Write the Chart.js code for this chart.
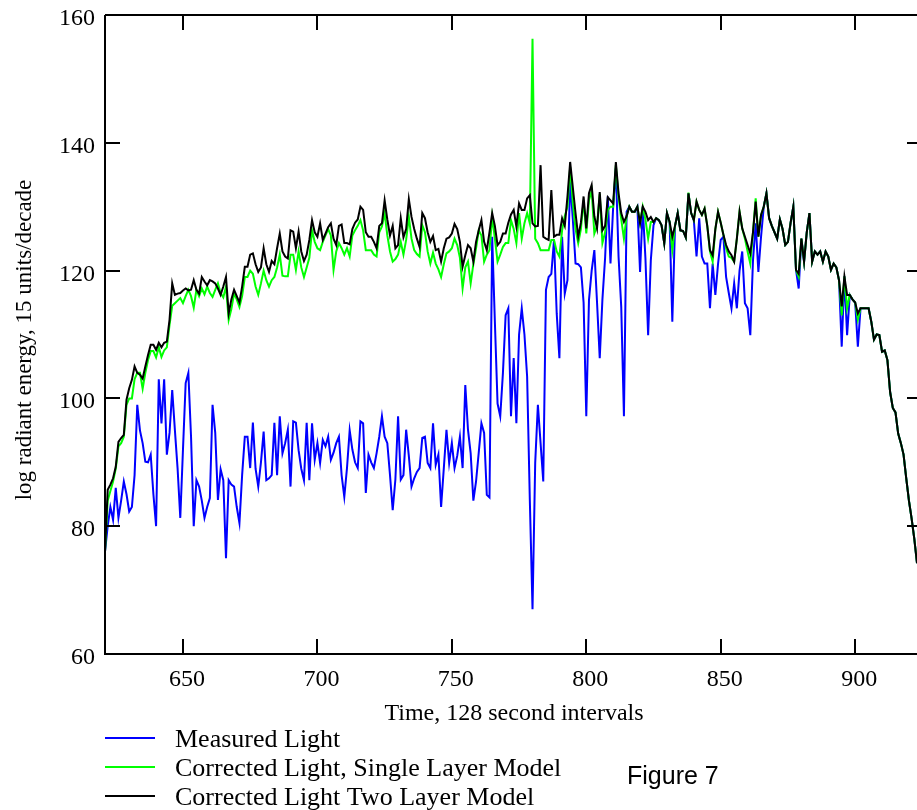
<!DOCTYPE html>
<html>
<head>
<meta charset="utf-8">
<script src="https://cdn.jsdelivr.net/npm/chart.js@4.4.1/dist/chart.umd.min.js"></script>
<style>
html,body{margin:0;padding:0;background:#fff;}
#c{display:block;}
</style>
</head>
<body>
<canvas id="c" width="917" height="810"></canvas>
<script>
// Time axis (128 second intervals)
const timeSteps = [
621,622,623,624,625,626,627,628,629,630,
631,632,633,634,635,636,637,638,639,640,
641,642,643,644,645,646,647,648,649,650,
651,652,653,654,655,656,657,658,659,660,
661,662,663,664,665,666,667,668,669,670,
671,672,673,674,675,676,677,678,679,680,
681,682,683,684,685,686,687,688,689,690,
691,692,693,694,695,696,697,698,699,700,
701,702,703,704,705,706,707,708,709,710,
711,712,713,714,715,716,717,718,719,720,
721,722,723,724,725,726,727,728,729,730,
731,732,733,734,735,736,737,738,739,740,
741,742,743,744,745,746,747,748,749,750,
751,752,753,754,755,756,757,758,759,760,
761,762,763,764,765,766,767,768,769,770,
771,772,773,774,775,776,777,778,779,780,
781,782,783,784,785,786,787,788,789,790,
791,792,793,794,795,796,797,798,799,800,
801,802,803,804,805,806,807,808,809,810,
811,812,813,814,815,816,817,818,819,820,
821,822,823,824,825,826,827,828,829,830,
831,832,833,834,835,836,837,838,839,840,
841,842,843,844,845,846,847,848,849,850,
851,852,853,854,855,856,857,858,859,860,
861,862,863,864,865,866,867,868,869,870,
871,872,873,874,875,876,877,878,879,880,
881,882,883,884,885,886,887,888,889,890,
891,892,893,894,895,896,897,898,899,900,
901,902,903,904,905,906,907,908,909,910,
911,912,913,914,915,916,917,918,919,920,
921,922,923];

const measuredLight = [
76,80,83,81,86,81.3,84,87,85,82.3,
83,88,99,95,93,90.1,90,91.2,85,80,
103,96.1,103,91.2,94.6,101.3,95,89,81.3,92,
102.4,104,94,80,87.2,86.2,84,81.3,83,84.4,
99,94.6,84.1,88.9,87.2,75,87.2,86.5,86.2,83,
80.5,88,94,94,89.1,96.2,89,86.2,90,94.8,
87.2,87.5,88,96.2,88,97.2,91.4,93,95.1,86.2,
96.4,96.2,91.9,89,87.2,96.2,87.2,96.1,90.4,93,
89.9,93.5,92.5,94,90.4,91.5,93,94,88,84.6,
89.1,95,92,90,89.1,96.4,96.1,85.2,91.2,90,
89.1,91.4,94,97.2,94,93,88,82.5,87.3,97.2,
87.3,88,95.1,91,86.2,87.5,88.5,89.1,93.8,94,
89.9,89.1,96.1,89.6,91.2,83,89,95.1,89.9,93,
89.1,91,94,89.1,102.1,95.1,91.4,84,87,91.5,
96.1,94.6,84.9,84.5,125.3,112,99.2,97.2,104,113,
114.1,97.2,106.3,96.1,110,114.1,110,103.4,84.1,67,
89.9,99,93,87,117,119,119.5,124.8,113.3,106.3,
125.3,116.4,118.5,134,128,121.1,121,120.5,115,97.2,
115.4,120,123.2,115,106.3,115.5,122,131.6,121.1,130,
136,122.2,114.3,97.2,129.2,130,129.2,129.2,130,119.8,
130,121.9,109.9,121.6,127.1,128.2,127.9,127.1,124.3,129,
127.6,112,127,129,126.3,126.2,125.2,132.1,129,127.9,
122.2,128.2,122.2,121.1,121.1,114.1,121.1,116.2,121,124.8,
125.3,119,116.5,114.1,118,114.1,120,123,114.9,114.1,
109.9,121.6,127.4,119.8,125.3,130,132.1,128.2,127,126,
125,128,126.5,124,124.5,127.5,130,120.1,117.2,125,
121.4,126,129,121.4,123,122.5,123,121.4,123,122.2,
120.1,121.1,120.5,118.5,108.1,119.1,109.9,116.2,115.5,115,
108.1,114.1,114.1,114.1,114.1,112,109.2,110,109.9,107.3,
107.5,106,101,98.5,97.8,94.5,93,91.2,87.5,84,
81.2,78,74.2];

const singleLayerModel = [
76,84,85.5,87,89,92.5,93,94,99,100,
100,103,104,104,101.5,104,106,107.4,107.4,106.4,
108,106.5,107.5,108,111.5,114.5,114.9,115.3,115.7,114.9,
116,117,116,114.2,117,116,117.2,116.3,117.5,116.5,
115.9,117,118,116.5,115.8,117.5,112.3,114,116.4,115.5,
114.3,116,119,119,120,119.5,117.5,116.2,118,120,
118.5,117.5,118.5,119,120.5,122.5,119.2,119.1,119.1,122.5,
122.5,120.1,123,120.5,119,120.5,122,126.3,124.5,123.5,
123.2,124.5,125.5,126.5,125.5,120.1,123,124.3,123.5,122.5,
123.5,122.2,125.5,126.3,127,127.9,126.3,123.2,123.2,123.2,
122.5,122.2,126,126.9,129,125.5,123,121.4,121.8,122.5,
124.5,122.5,124.8,128.4,125,123.2,122.6,122.2,127.1,126,
123,121.1,122.8,121.1,120.2,119,121,122.7,123,123.5,
125,124,122,117.2,120.5,121.4,118,121,123.5,126.3,
125.5,121.4,122.5,123.2,128.4,125,121.4,122.5,123.7,124.3,
124.3,127.9,126.5,124.3,129,125,127.4,129,127.4,156.3,
125,124.3,123.2,123.2,123.2,123.2,124.8,124.8,123,122.2,
126.3,128.5,130,136.2,130.5,126.5,124.3,126.5,131,125.8,
131,132.5,125.8,127,132,124.3,126,129.5,130,130,
136.5,131.5,128,125,128.5,130,129.2,129.2,130,127.4,
130,128,125,127.6,127.6,128.2,127.9,127.1,124.3,129,
127.6,123.2,127,129,126.3,126.2,125.2,132.2,129,127.9,
130.8,129.5,128.7,129.7,127,123,121.4,126.5,129.2,127.5,
125.6,123.5,122.2,122,121.4,125,129.2,126.6,125,123,
121.1,126,131.3,125.3,128.7,130,132.1,128.2,127,126,
125,128,126.5,124,124.5,127.5,130,120.1,119,125,
121.4,126,129,121.4,123,122.5,123,121.4,123,122.2,
120.1,121.1,120.5,118.5,113,119.1,114.1,116.2,115.5,115,
112.3,114.1,114.1,114.1,114.1,112,109.2,110,109.9,107.3,
107.5,106,101,98.5,97.8,94.5,93,91.2,87.5,84,
81.2,78,74.2];

const twoLayerModel = [
76,85.7,86.5,87.5,89.3,93.2,93.8,94.3,99.8,101.6,
102.9,105,104,103.7,103.1,105,106.8,108.4,108.4,107.6,
108.7,108,108.7,108.9,112.3,118,116.2,116.4,116.5,116.9,
117.2,116.9,117,118.5,117,116.4,119,118.3,117.7,118.5,
118.3,118,117.2,116.2,117.5,119,113.3,115.5,117,116,
115,117.5,120.6,120.6,122.5,122.7,121,119.8,120.5,123.5,
121,119.8,121.5,121,123.5,125.8,123,122.2,121.9,126.3,
126.1,123.5,126.1,123,121.5,122.5,124.8,127.9,126,125.3,
127.4,124.8,125.8,126.8,127.4,125,124,127,127.2,124.3,
124.3,124.1,126.5,127.5,128,130,129.5,126,125.3,125.3,
124.5,123.5,127,127.4,131,128,125.5,127,123.5,124,
128.2,125.2,126.5,131.2,128.4,126.5,125,123.7,129,128.2,
126,124.5,125.4,123.2,123.4,121.4,123.5,125,125.2,125.8,
127.3,126.5,124.5,120.6,122.4,124,123.5,121.4,124.5,126.3,
127.9,124.5,123.2,126,129,127,124,124.5,125.8,125.8,
127.5,128.8,129.5,126.9,130.5,129.5,129.5,131.3,131.8,127.4,
126.9,127,136.5,125.3,125,124.8,132.6,125.3,125.6,125.6,
128.2,127,131.6,137,133,129,125.3,127.5,131.6,126.6,
132.1,133.4,128.5,126.6,132.3,126.3,127,131.5,131,130.5,
137,132.1,129,127.6,128.5,130,129.2,129.2,130,127.4,
130,129.2,127.9,128.4,127.6,128.2,127.9,127.1,124.3,129,
127.6,125.3,127,129,126.3,126.2,125.2,132.1,129,127.9,
130.8,129.5,128.7,129.7,127,123.2,122.4,126.5,129.2,127.5,
125.6,124,123,122.4,121.4,125,129.2,126.6,125.3,124,
122.7,126,130.8,125.3,128.7,130,132.1,128.2,127,126,
125,128,126.5,124,124.5,127.5,130,120.1,119.5,125,
121.4,126,129,121.4,123,122.5,123,121.4,123,122.2,
120.1,121.1,120.5,118.5,114.4,119.1,116.2,116.2,115.5,115,
113.3,114.1,114.1,114.1,114.1,112,109.2,110,109.9,107.3,
107.5,106,101,98.5,97.8,94.5,93,91.2,87.5,84,
81.2,78,74.2];

const xTickValues = [650, 700, 750, 800, 850, 900];
const yTickValues = [60, 80, 100, 120, 140, 160];
const seriesNames = ['Measured Light', 'Corrected Light, Single Layer Model', 'Corrected Light Two Layer Model'];
const seriesColors = ['#0000ff', '#00ff00', '#000000'];
const xTitle = 'Time, 128 second intervals';
const yTitle = 'log radiant energy, 15 units/decade';
const figureLabel = 'Figure 7';

const toPoints = vals => vals.map((v, i) => ({x: timeSteps[i], y: v}));

const SERIF = '"Liberation Serif", "Times New Roman", serif';
const SANS = '"Liberation Sans", Arial, sans-serif';

const framePlugin = {
  id: 'frame',
  afterDraw(chart) {
    const {ctx, chartArea: a, scales: {x, y}} = chart;
    ctx.save();
    ctx.strokeStyle = '#000';
    ctx.lineWidth = 2;
    ctx.beginPath();
    ctx.moveTo(a.left, a.top); ctx.lineTo(a.left, a.bottom); ctx.lineTo(a.right, a.bottom);
    ctx.moveTo(a.left, a.top); ctx.lineTo(a.right, a.top);
    xTickValues.forEach(v => {
      const px = Math.round(x.getPixelForValue(v));
      ctx.moveTo(px, a.bottom); ctx.lineTo(px, a.bottom - 15);
      ctx.moveTo(px, a.top); ctx.lineTo(px, a.top + 15);
    });
    yTickValues.forEach(v => {
      const py = Math.round(y.getPixelForValue(v));
      ctx.moveTo(a.left, py); ctx.lineTo(a.left + 15, py);
      ctx.moveTo(a.right, py); ctx.lineTo(a.right - 10, py);
    });
    ctx.stroke();

    ctx.fillStyle = '#000';
    ctx.font = '24px ' + SERIF;
    ctx.textBaseline = 'alphabetic';
    ctx.textAlign = 'right';
    yTickValues.forEach(v => {
      const py = y.getPixelForValue(v);
      ctx.fillText(String(v), a.left - 10, py + 10);
    });
    ctx.textAlign = 'center';
    xTickValues.forEach(v => {
      const px = x.getPixelForValue(v);
      ctx.fillText(String(v), px + 4, a.bottom + 32);
    });
    ctx.font = '24px ' + SERIF;
    ctx.fillText(xTitle, 514, 720);

    ctx.save();
    ctx.translate(25, 340);
    ctx.rotate(-Math.PI / 2);
    ctx.textBaseline = 'middle';
    ctx.font = '23px ' + SERIF;
    ctx.fillText(yTitle, 0, 0);
    ctx.restore();

    // legend
    ctx.font = '26px ' + SERIF;
    ctx.textAlign = 'left';
    ctx.textBaseline = 'alphabetic';
    const rows = [738, 767, 796];
    seriesNames.forEach((name, i) => {
      ctx.strokeStyle = seriesColors[i];
      ctx.lineWidth = 2;
      ctx.beginPath();
      ctx.moveTo(105, rows[i]); ctx.lineTo(155, rows[i]);
      ctx.stroke();
      ctx.fillText(name, 175, rows[i] + 9);
    });
    ctx.font = '25px ' + SANS;
    ctx.fillText(figureLabel, 627, 784);
    ctx.restore();
  }
};

new Chart(document.getElementById('c'), {
  type: 'line',
  data: {
    datasets: [
      {label: seriesNames[0], data: toPoints(measuredLight), borderColor: seriesColors[0], order: 3},
      {label: seriesNames[1], data: toPoints(singleLayerModel), borderColor: seriesColors[1], order: 2},
      {label: seriesNames[2], data: toPoints(twoLayerModel), borderColor: seriesColors[2], order: 1}
    ]
  },
  options: {
    responsive: false,
    animation: false,
    layout: {padding: {left: 105, top: 15, right: 0, bottom: 156}},
    plugins: {legend: {display: false}, tooltip: {enabled: false}, title: {display: false}},
    scales: {
      x: {type: 'linear', min: 621, max: 923, display: false},
      y: {type: 'linear', min: 60, max: 160, display: false}
    },
    elements: {
      point: {radius: 0},
      line: {tension: 0, borderWidth: 2, fill: false}
    }
  },
  plugins: [framePlugin]
});
</script>
</body>
</html>
